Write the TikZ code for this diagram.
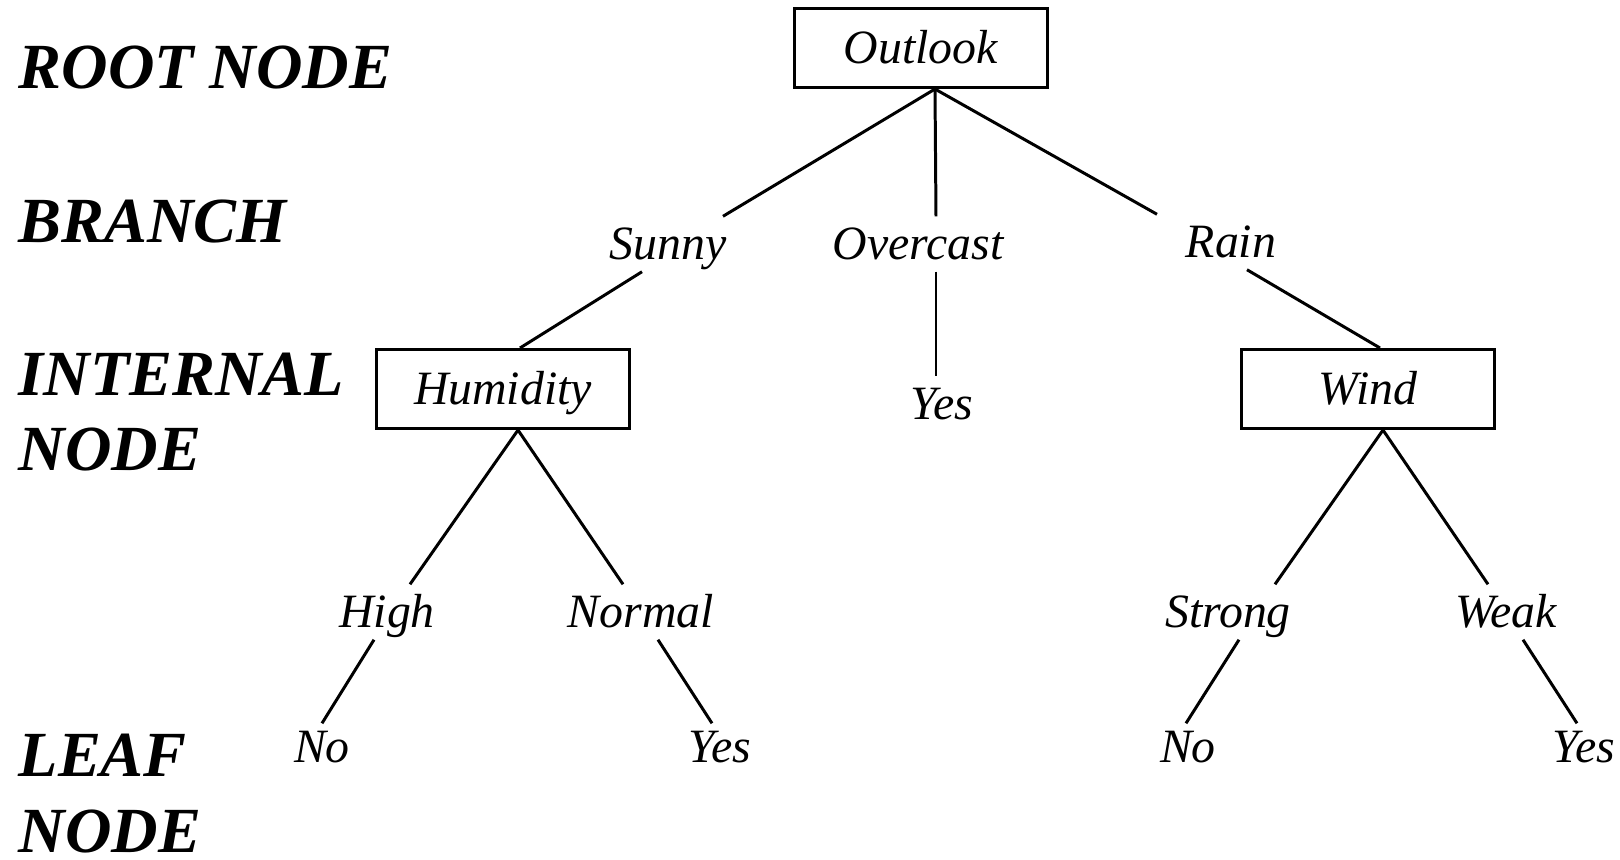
\documentclass[tikz,border=0pt]{standalone}
\usepackage{fontspec}
\setmainfont{Liberation Serif}
\usetikzlibrary{calc,positioning}

\begin{document}
\begin{tikzpicture}[
    x=0.01cm, y=-0.01cm,
    every node/.style={font=\fontsize{13.6}{16}\selectfont\itshape},
    attr/.style={
      rectangle, draw, line width=0.85pt,
      minimum width=2.52cm, minimum height=0.79cm,
      inner sep=0pt, text height=0.33cm, text depth=0.03cm
    },
    value/.style={
      anchor=base, inner xsep=0.03cm, inner ysep=0.09cm,
      text height=0.33cm, text depth=0.03cm
    },
    level/.style={
      anchor=base west, inner sep=0pt,
      font=\fontsize{18.3}{22}\selectfont\bfseries\itshape
    },
    edge/.style={line width=0.85pt},
  ]
  \useasboundingbox (0,0) rectangle (1620,859);

  % --- Level labels (left side) ---
  \node[level] (lblRoot) at (18,88) {ROOT NODE};
  \node[level] (lblBranch) at (18,242) {BRANCH};
  \node[level] (lblInternal) at (18,395) {INTERNAL};
  \node[level] (lblInternalB) at (18,470) {NODE};
  \node[level] (lblLeaf) at (18,776) {LEAF};
  \node[level] (lblLeafB) at (18,852) {NODE};

  % --- Attribute nodes ---
  \node[attr] (outlook) at (921,48) {Outlook};
  \node[attr] (humidity) at (503,389) {Humidity};
  \node[attr] (wind) at (1368,389) {Wind};

  % --- Branch values ---
  \node[value] (sunny) at (668,259) {Sunny};
  \node[value] (overcast) at (918,259) {Overcast};
  \node[value] (rain) at (1231,257) {Rain};
  \node[value] (high) at (387,627) {High};
  \node[value] (normal) at (641,627) {Normal};
  \node[value] (strong) at (1228,627) {Strong};
  \node[value] (weak) at (1506,627) {Weak};

  % --- Leaves ---
  \node[value] (yesOvercast) at (942,419) {Yes};
  \node[value] (noHigh) at (322,762) {No};
  \node[value] (yesNormal) at (720,762) {Yes};
  \node[value] (noStrong) at (1188,762) {No};
  \node[value] (yesWeak) at (1584,762) {Yes};

  % --- Feet of the attribute boxes ---
  \coordinate (outlookFoot) at ($ (outlook.south) + (14,0) $);
  \coordinate (humidityFoot) at ($ (humidity.south) + (15,0) $);
  \coordinate (windFoot) at ($ (wind.south) + (15,0) $);

  % --- Edges ---
  \draw[edge] (outlookFoot) -- ($ (sunny.north) + (55,0) $);
  \draw[edge] (outlookFoot) -- ($ (overcast.north) + (18,0) $);
  \draw[edge] (outlookFoot) -- ($ (rain.north) + (-74,0) $);

  \draw[edge] ($ (sunny.south) + (-26,0) $) -- ($ (humidity.north) + (17,0) $);
  \draw[edge] ($ (overcast.south) + (18,0) $) -- ($ (yesOvercast.north) + (-6,0) $);
  \draw[edge] ($ (rain.south) + (16,0) $) -- ($ (wind.north) + (12,0) $);

  \draw[edge] (humidityFoot) -- ($ (high.north) + (23,0) $);
  \draw[edge] (humidityFoot) -- ($ (normal.north) + (-18,0) $);
  \draw[edge] (windFoot) -- ($ (strong.north) + (47,0) $);
  \draw[edge] (windFoot) -- ($ (weak.north) + (-18,0) $);

  \draw[edge] ($ (high.south) + (-13,0) $) -- ($ (noHigh.north) + (0,4) $);
  \draw[edge] ($ (normal.south) + (17,0) $) -- ($ (yesNormal.north) + (-8,4) $);
  \draw[edge] ($ (strong.south) + (11,0) $) -- ($ (noStrong.north) + (-2,4) $);
  \draw[edge] ($ (weak.south) + (17,0) $) -- ($ (yesWeak.north) + (-7,4) $);
\end{tikzpicture}
\end{document}
